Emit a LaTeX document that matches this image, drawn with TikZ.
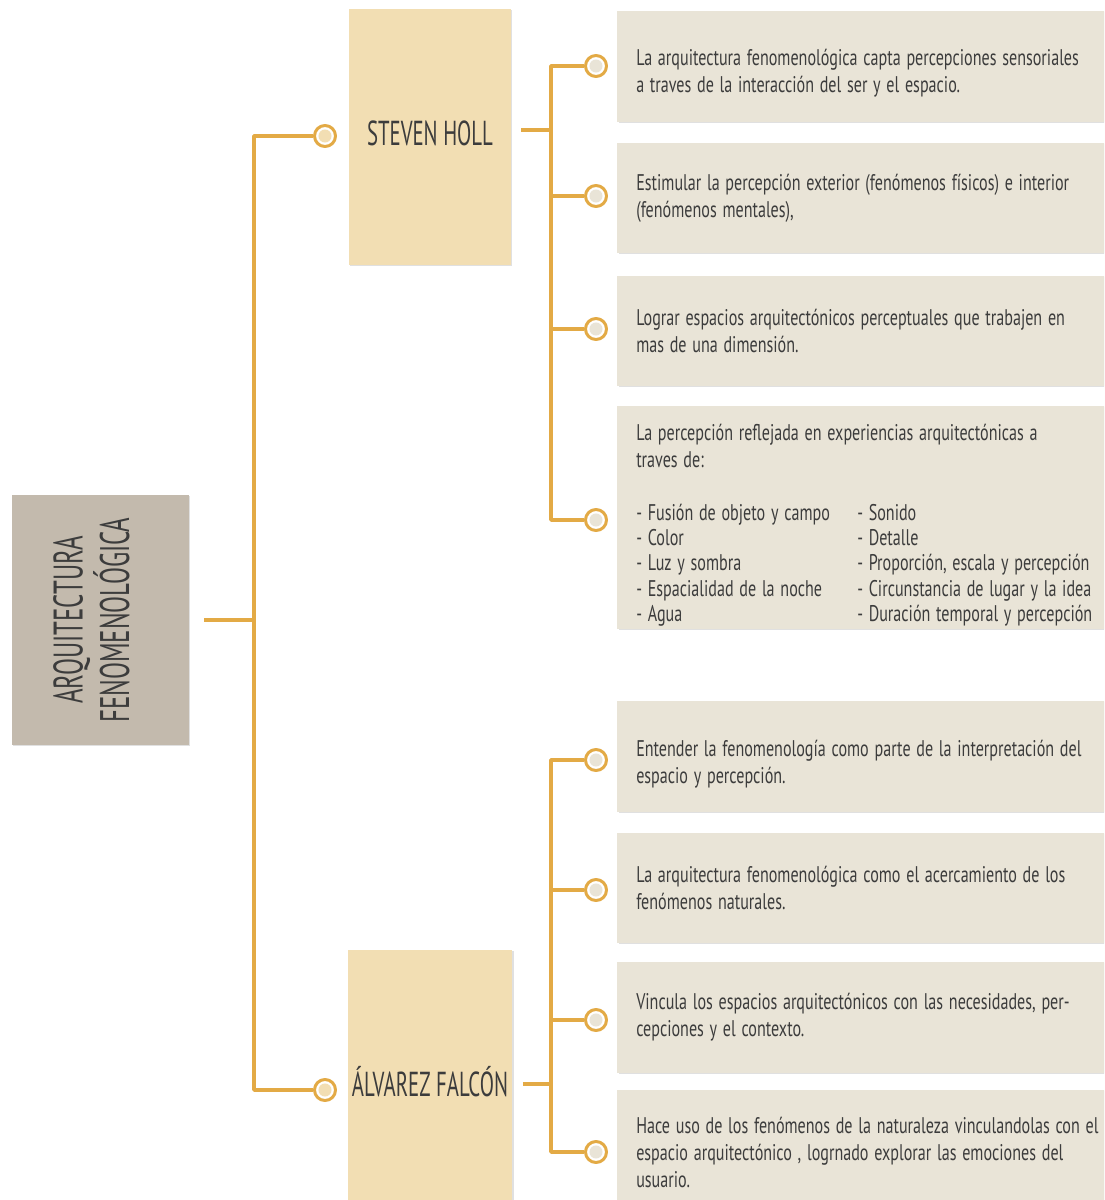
\documentclass[tikz,border=0pt]{standalone}
\usepackage{fontspec}
\setmainfont[FakeStretch=0.71]{PT Sans}
\newfontfamily\headfont[FakeStretch=0.6]{PT Sans}
\usetikzlibrary{
    shadows,        % tikz's library for the faint shadow under the boxes
    calc            % tikz's library for coordinate calculations
}
\definecolor{gold}{HTML}{E3AA45}
\definecolor{rootfill}{HTML}{C3BAAD}
\definecolor{namefill}{HTML}{F2DEB3}
\definecolor{notefill}{HTML}{E9E4D7}
\definecolor{ink}{HTML}{3C3C3C}
\newcommand{\unit}{0.75pt}
\newcommand{\lift}[1]{\rule{0pt}{#1}}
\newcommand{\tightspace}{\spaceskip=4.3pt\relax}
\tikzset{
    box shadow/.style={drop shadow={shadow xshift=1pt, shadow yshift=-1pt, opacity=0.12, fill=black}},
    root box/.style={
        box shadow, fill=rootfill, rotate=90,
        minimum width=250*\unit, minimum height=177*\unit,
        align=center, text=ink,
        font=\headfont\fontsize{31}{35}\selectfont
    },
    name box/.style={
        box shadow, fill=namefill,
        minimum width=162*\unit, minimum height=256*\unit,
        text=ink, font=\headfont\fontsize{26}{30}\selectfont
    },
    note box/.style={
        box shadow, fill=notefill, anchor=west,
        text width=520*\unit, inner xsep=19*\unit, inner ysep=0pt,
        align=flush left, text=ink,
        font=\fontsize{17}{20.25}\selectfont\tightspace
    },
    dot/.style={
        circle, draw=gold, line width=3*\unit, fill=white,
        minimum size=21*\unit, inner sep=0pt,
        path picture={\fill[#1] (path picture bounding box.center) circle[radius=4.9pt];}
    },
    link/.style={draw=gold, line width=3.5*\unit}
}

\begin{document}
\begin{tikzpicture}[x=\unit, y=-\unit, join=round]
        \path[use as bounding box, fill=white] (0,0) rectangle (1104,1200);
        \clip (0,0) rectangle (1104,1200);

        % main topic, south anchor is on the right side after rotation
        \node[root box] (root) at (100.5,620) {ARQUITECTURA\\FENOMENOLÓGICA\rule[-14pt]{0pt}{1pt}};

        % the two authors
        \node[name box] (holl) at (430,137) {STEVEN HOLL\rule[-6pt]{0pt}{1pt}};
        \node[name box, minimum height=264*\unit] (alvarez) at (430,1082) {ÁLVAREZ FALCÓN};
        \node[dot=namefill] (hollDot) at (325,136) {};
        \node[dot=namefill] (alvarezDot) at (325,1090) {};

        % notes of Steven Holl
        \node[note box, minimum height=111*\unit] (n1) at (617,66.5) {\lift{22pt}La arquitectura fenomenológica capta percepciones sensoriales\\a traves de la interacción del ser y el espacio.};
        \node[note box, minimum height=110*\unit] (n2) at (617,198) {Estimular la percepción exterior (fenómenos físicos) e interior\\(fenómenos mentales),};
        \node[note box, minimum height=110*\unit] (n3) at (617,331) {Lograr espacios arquitectónicos perceptuales que trabajen en\\mas de una dimensión.};
        \node[note box, minimum height=223*\unit] (n4) at (617,517.5) {\lift{26pt}La percepción reflejada en experiencias arquitectónicas a\\traves de:\\[25pt]
            {\fontsize{17}{19}\selectfont\tightspace
            \begin{tabular}{@{}p{165.75pt}@{}l@{}}
                - Fusión de objeto y campo & - Sonido \\
                - Color & - Detalle \\
                - Luz y sombra & - Proporción, escala y percepción \\
                - Espacialidad de la noche & - Circunstancia de lugar y la idea \\
                - Agua & - Duración temporal y percepción
            \end{tabular}}};

        % notes of Álvarez Falcón
        \node[note box, minimum height=111*\unit] (n5) at (617,756.5) {\lift{24pt}Entender la fenomenología como parte de la interpretación del\\espacio y percepción.};
        \node[note box, minimum height=110*\unit] (n6) at (617,888) {La arquitectura fenomenológica como el acercamiento de los\\fenómenos naturales.};
        \node[note box, minimum height=111*\unit] (n7) at (617,1017.5) {Vincula los espacios arquitectónicos con las necesidades, per-\\cepciones y el contexto.};
        \node[note box, minimum height=124*\unit] (n8) at (617,1152) {Hace uso de los fenómenos de la naturaleza vinculandolas con el\\espacio arquitectónico , logrnado explorar las emociones del\\usuario.};

        \foreach \y [count=\i] in {66,196,329,520,760,890,1020,1152}
            \node[dot=notefill] (d\i) at (596,\y) {};

        % tree lines
        \coordinate (hub) at (254,620);
        \coordinate (hollHub) at (551,130);
        \coordinate (alvarezHub) at (551,1084);
        \draw[link] ($(root.south)+(15,0)$) -- (hub);
        \draw[link] (hub) |- (hollDot.west);
        \draw[link] (hub) |- (alvarezDot.west);
        \draw[link] ($(holl.east |- hollHub)+(10,0)$) -- (hollHub);
        \draw[link] ($(alvarezHub -| alvarez.east)+(10,0)$) -- (alvarezHub);
        \draw[link] (hollHub) |- (d1.west);
        \draw[link] (hollHub) |- (d2.west);
        \draw[link] (hollHub) |- (d3.west);
        \draw[link] (hollHub) |- (d4.west);
        \draw[link] (alvarezHub) |- (d5.west);
        \draw[link] (alvarezHub) |- (d6.west);
        \draw[link] (alvarezHub) |- (d7.west);
        \draw[link] (alvarezHub) |- (d8.west);
    \end{tikzpicture}
\end{document}
